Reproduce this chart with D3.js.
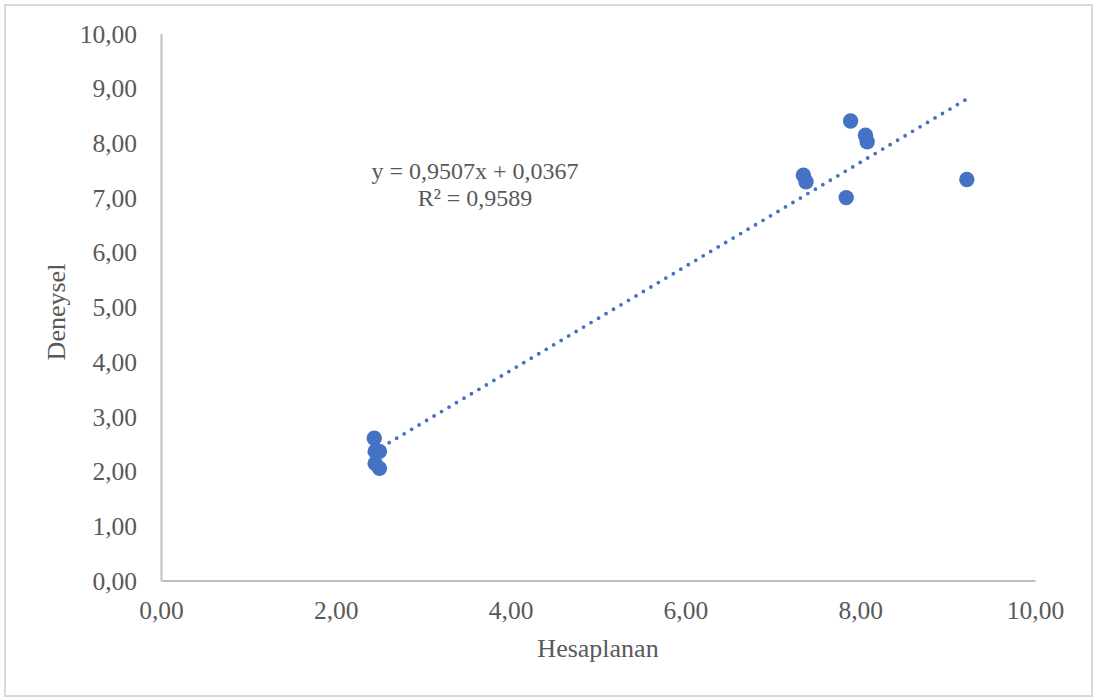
<!DOCTYPE html>
<html>
<head>
<meta charset="utf-8">
<script src="https://cdn.jsdelivr.net/npm/d3@7/dist/d3.min.js"></script>
<style>
  html, body { margin: 0; padding: 0; background: #fff; }
  svg { display: block; }
  text { font-family: "Liberation Serif", "Times New Roman", serif; fill: #595959; }
</style>
</head>
<body>
<svg id="chart" width="1094" height="700"></svg>
<script>
// Hesaplanan (calculated) vs. Deneysel (experimental) values
const hesaplanan = [2.44, 2.45, 2.50, 2.45, 2.50, 7.89, 8.06, 8.08, 7.35, 7.38, 7.84, 9.22];
const deneysel   = [2.60, 2.36, 2.36, 2.14, 2.05, 8.40, 8.14, 8.02, 7.41, 7.29, 7.00, 7.33];

// Linear trendline coefficients and fit quality
const slope = 0.9507;
const intercept = 0.0367;
const rSquared = 0.9589;

const tickValues = [0, 2, 4, 6, 8, 10];
const yTickValues = [0, 1, 2, 3, 4, 5, 6, 7, 8, 9, 10];

const fmt = v => v.toFixed(2).replace(".", ",");
const fmt4 = v => v.toFixed(4).replace(".", ",");

const svg = d3.select("#chart");

// chart area border
svg.append("rect")
  .attr("x", 5).attr("y", 5).attr("width", 1087).attr("height", 691)
  .attr("fill", "#fff").attr("stroke", "#d9d9d9").attr("stroke-width", 2);

const x = d3.scaleLinear().domain([0, 10]).range([161, 1035]);
const y = d3.scaleLinear().domain([0, 10]).range([580.5, 33.5]);

// axes
const xAxis = svg.append("g")
  .attr("transform", `translate(0,${y(0)})`)
  .call(d3.axisBottom(x).tickValues(tickValues).tickFormat(fmt).tickSize(0).tickPadding(0));
xAxis.select(".domain").attr("stroke", "#bfbfbf").attr("stroke-width", 2);
xAxis.selectAll("text")
  .attr("dy", null).attr("y", 38)
  .style("font-size", "25.5px").attr("fill", "#595959");

const yAxis = svg.append("g")
  .attr("transform", `translate(${x(0)},0)`)
  .call(d3.axisLeft(y).tickValues(yTickValues).tickFormat(fmt).tickSize(0).tickPadding(24));
yAxis.select(".domain").attr("stroke", "#bfbfbf").attr("stroke-width", 2);
yAxis.selectAll("text")
  .attr("dy", "0.34em")
  .style("font-size", "25.5px").attr("fill", "#595959");
svg.selectAll(".tick line").remove();
svg.selectAll("g").attr("font-family", null).attr("font-size", null);

// trendline over the span of the data
const [xmin, xmax] = d3.extent(hesaplanan);
svg.append("line")
  .attr("x1", x(xmin)).attr("y1", y(slope * xmin + intercept))
  .attr("x2", x(xmax)).attr("y2", y(slope * xmax + intercept))
  .attr("stroke", "#4472C4").attr("stroke-width", 3.8)
  .attr("stroke-linecap", "round").attr("stroke-dasharray", "0 8.7");

// data points
svg.append("g").selectAll("circle")
  .data(d3.zip(hesaplanan, deneysel))
  .join("circle")
  .attr("cx", d => x(d[0])).attr("cy", d => y(d[1]))
  .attr("r", 7.7)
  .attr("fill", "#4472C4");

// trendline equation
const eq = svg.append("text")
  .attr("x", 475).attr("y", 179)
  .attr("text-anchor", "middle")
  .style("font-size", "24px");
eq.append("tspan").attr("x", 475).text(`y = ${fmt4(slope)}x + ${fmt4(intercept)}`);
eq.append("tspan").attr("x", 475).attr("dy", 27).text(`R² = ${fmt4(rSquared)}`);

// axis titles
svg.append("text")
  .attr("x", 598).attr("y", 657)
  .attr("text-anchor", "middle")
  .style("font-size", "26px")
  .text("Hesaplanan");

svg.append("text")
  .attr("transform", "translate(65,312) rotate(-90)")
  .attr("text-anchor", "middle")
  .style("font-size", "26px")
  .text("Deneysel");
</script>
</body>
</html>
